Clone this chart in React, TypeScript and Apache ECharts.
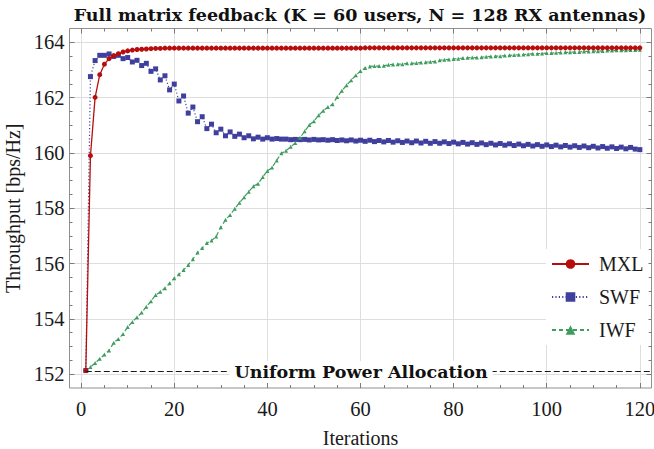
import React, { useEffect, useRef } from "react";
import * as echarts from "echarts";

const iterations = [
  1, 2, 3, 4, 5, 6, 7, 8, 9, 10, 11, 12, 13, 14, 15, 16, 17, 18, 19, 20,
  21, 22, 23, 24, 25, 26, 27, 28, 29, 30, 31, 32, 33, 34, 35, 36, 37, 38, 39, 40,
  41, 42, 43, 44, 45, 46, 47, 48, 49, 50, 51, 52, 53, 54, 55, 56, 57, 58, 59, 60,
  61, 62, 63, 64, 65, 66, 67, 68, 69, 70, 71, 72, 73, 74, 75, 76, 77, 78, 79, 80,
  81, 82, 83, 84, 85, 86, 87, 88, 89, 90, 91, 92, 93, 94, 95, 96, 97, 98, 99, 100,
  101, 102, 103, 104, 105, 106, 107, 108, 109, 110, 111, 112, 113, 114, 115, 116, 117, 118, 119, 120,
];

const mxl = [
  152.13, 159.9, 162.01, 162.83, 163.21, 163.41, 163.52, 163.59, 163.65, 163.69,
  163.72, 163.74, 163.75, 163.76, 163.77, 163.78, 163.78, 163.79, 163.79, 163.79,
  163.79, 163.79, 163.79, 163.79, 163.79, 163.79, 163.79, 163.79, 163.79, 163.79,
  163.79, 163.79, 163.79, 163.79, 163.79, 163.79, 163.79, 163.79, 163.79, 163.79,
  163.79, 163.79, 163.79, 163.79, 163.79, 163.79, 163.79, 163.79, 163.79, 163.79,
  163.79, 163.79, 163.79, 163.79, 163.79, 163.79, 163.79, 163.79, 163.79, 163.79,
  163.8, 163.8, 163.8, 163.8, 163.8, 163.8, 163.8, 163.8, 163.8, 163.8,
  163.8, 163.8, 163.8, 163.8, 163.8, 163.8, 163.8, 163.8, 163.8, 163.8,
  163.8, 163.8, 163.8, 163.8, 163.8, 163.8, 163.8, 163.8, 163.8, 163.8,
  163.8, 163.8, 163.8, 163.8, 163.8, 163.8, 163.8, 163.8, 163.8, 163.8,
  163.8, 163.8, 163.8, 163.8, 163.8, 163.8, 163.8, 163.8, 163.8, 163.8,
  163.8, 163.8, 163.8, 163.8, 163.8, 163.8, 163.8, 163.8, 163.8, 163.8,
];

const swf = [
  152.13, 162.76, 163.34, 163.53, 163.53, 163.58, 163.49, 163.53, 163.41, 163.45,
  163.29, 163.35, 163.16, 163.24, 162.95, 163.04, 162.64, 162.79, 162.28, 162.49,
  161.88, 162.06, 161.44, 161.66, 161.13, 161.31, 160.88, 161.04, 160.73, 160.86,
  160.62, 160.76, 160.6, 160.68, 160.55, 160.62, 160.51, 160.57, 160.5, 160.55,
  160.5, 160.52, 160.5, 160.5, 160.48, 160.49, 160.48, 160.49, 160.47, 160.49,
  160.47, 160.48, 160.46, 160.48, 160.45, 160.47, 160.44, 160.47, 160.43, 160.46,
  160.42, 160.46, 160.41, 160.45, 160.4, 160.45, 160.39, 160.44, 160.38, 160.43,
  160.37, 160.43, 160.36, 160.42, 160.35, 160.41, 160.35, 160.4, 160.34, 160.39,
  160.33, 160.38, 160.32, 160.37, 160.31, 160.36, 160.3, 160.35, 160.29, 160.34,
  160.28, 160.33, 160.27, 160.32, 160.26, 160.31, 160.25, 160.3, 160.24, 160.29,
  160.23, 160.28, 160.22, 160.27, 160.21, 160.26, 160.2, 160.25, 160.19, 160.24,
  160.18, 160.23, 160.17, 160.22, 160.16, 160.21, 160.15, 160.2, 160.14, 160.12,
];

const iwf = [
  152.13, 152.26, 152.4, 152.56, 152.71, 152.86, 153.14, 153.27, 153.45, 153.71,
  153.89, 154.06, 154.23, 154.44, 154.64, 154.86, 154.98, 155.11, 155.29, 155.47,
  155.61, 155.77, 155.95, 156.16, 156.4, 156.56, 156.74, 156.83, 156.98, 157.31,
  157.58, 157.76, 157.98, 158.2, 158.4, 158.6, 158.8, 158.89, 159.13, 159.35,
  159.47, 159.73, 159.99, 160.08, 160.22, 160.36, 160.55, 160.78, 161.01, 161.15,
  161.36, 161.53, 161.66, 161.76, 162.02, 162.25, 162.45, 162.63, 162.81, 162.96,
  163.07, 163.13, 163.14, 163.14, 163.15, 163.19, 163.2, 163.21, 163.21, 163.24,
  163.24, 163.25, 163.27, 163.28, 163.3, 163.31, 163.35, 163.37, 163.38, 163.4,
  163.41, 163.43, 163.44, 163.45, 163.45, 163.46, 163.48, 163.49, 163.5, 163.5,
  163.52, 163.53, 163.54, 163.55, 163.56, 163.57, 163.59, 163.59, 163.6, 163.61,
  163.61, 163.62, 163.63, 163.64, 163.64, 163.65, 163.65, 163.67, 163.67, 163.68,
  163.68, 163.69, 163.7, 163.7, 163.71, 163.71, 163.71, 163.72, 163.72, 163.73,
];

const uniformLevel = 152.12;
const uniformStart = 1;
const uniformEnd = 122.4;
const uniformLabel = "Uniform Power Allocation";

const xMajorTicks = [0, 20, 40, 60, 80, 100, 120];
const xMinorTicks = [
  0, 5, 10, 15, 20, 25, 30, 35, 40, 45, 50, 55, 60, 65, 70, 75, 80, 85, 90, 95, 100, 105, 110, 115, 120,
];
const yMajorTicks = [152, 154, 156, 158, 160, 162, 164];
const yMinorTicks = [
  152, 152.5, 153, 153.5, 154, 154.5, 155, 155.5, 156, 156.5, 157, 157.5, 158, 158.5,
  159, 159.5, 160, 160.5, 161, 161.5, 162, 162.5, 163, 163.5, 164,
];

const X_MIN = -2.5;
const X_MAX = 122.5;
const Y_MIN = 151.5;
const Y_MAX = 164.5;

const titleText = "Full matrix feedback (K = 60 users, N = 128 RX antennas)";
const serif = "Liberation Serif";
const boldSerif = "DejaVu Serif";
const tickColor = "#7a7a7a";
const gridColor = "#dedede";
const textColor = "#1a1a1a";

function pairs(vals: number[]) {
  return iterations.map((it, i) => [it, vals[i]]);
}

function xAxisDef(position: "top" | "bottom", ticks: number[], len: number, main: boolean) {
  return {
    type: "value",
    position,
    min: X_MIN,
    max: X_MAX,
    axisLine: { show: false, onZero: false },
    axisTick: { show: true, inside: true, length: len, customValues: ticks, lineStyle: { color: tickColor, width: 1 } },
    axisLabel: main
      ? { show: true, customValues: ticks, margin: 10, fontFamily: serif, fontSize: 20.5, color: textColor }
      : { show: false },
    splitLine: main && position === "bottom" ? { show: true, lineStyle: { color: gridColor, width: 1 } } : { show: false },
    ...(main && position === "bottom"
      ? {
          name: "Iterations",
          nameLocation: "middle",
          nameGap: 40,
          nameTextStyle: { fontFamily: serif, fontSize: 20, color: textColor },
        }
      : {}),
  };
}

function yAxisDef(position: "left" | "right", ticks: number[], len: number, main: boolean) {
  return {
    type: "value",
    position,
    min: Y_MIN,
    max: Y_MAX,
    axisLine: { show: false, onZero: false },
    axisTick: { show: true, inside: true, length: len, customValues: ticks, lineStyle: { color: tickColor, width: 1 } },
    axisLabel: main && position === "left"
      ? { show: true, customValues: ticks, margin: 5, fontFamily: serif, fontSize: 20.5, color: textColor }
      : { show: false },
    splitLine: main && position === "left" ? { show: true, lineStyle: { color: gridColor, width: 1 } } : { show: false },
    ...(main && position === "left"
      ? {
          name: "Throughput [bps/Hz]",
          nameLocation: "middle",
          nameGap: 41,
          nameTextStyle: { fontFamily: serif, fontSize: 20, color: textColor },
        }
      : {}),
  };
}

export default function App() {
  const ref = useRef<HTMLDivElement>(null);
  useEffect(() => {
    if (!ref.current) return;
    const chart = echarts.init(ref.current, undefined, { renderer: "svg" });
    const option: any = {
      animation: false,
      backgroundColor: "#ffffff",
      grid: {
        left: 69.5,
        right: 2.5,
        top: 28.5,
        bottom: 61,
        show: true,
        borderColor: "#8f8f8f",
        borderWidth: 1,
        backgroundColor: "transparent",
        containLabel: false,
        outerBoundsMode: "none",
      },
      graphic: [
        {
          type: "text",
          x: 360,
          y: 15,
          z: 100,
          style: {
            text: titleText,
            fontFamily: boldSerif,
            fontWeight: "bold",
            fontSize: 17.5,
            fill: "#111",
            textAlign: "center",
            textVerticalAlign: "middle",
          },
        },
        {
          type: "text",
          x: 361,
          y: 372,
          z: 100,
          style: {
            text: uniformLabel,
            fontFamily: boldSerif,
            fontWeight: "bold",
            fontSize: 17.5,
            fill: "#111",
            textAlign: "center",
            textVerticalAlign: "middle",
            backgroundColor: "#ffffff",
            padding: [2, 5],
          },
        },
      ],
      legend: {
        orient: "vertical",
        left: 546,
        top: 249,
        itemWidth: 37,
        itemHeight: 12,
        itemGap: 13,
        padding: 5,
        backgroundColor: "#ffffff",
        data: ["MXL", "SWF", "IWF"],
        textStyle: { fontFamily: serif, fontSize: 20, color: textColor, lineHeight: 20, padding: [0, 0, 0, 5] },
      },
      xAxis: [
        xAxisDef("bottom", xMajorTicks, 5, true),
        xAxisDef("bottom", xMinorTicks, 3, false),
        xAxisDef("top", xMajorTicks, 5, false),
        xAxisDef("top", xMinorTicks, 3, false),
      ],
      yAxis: [
        yAxisDef("left", yMajorTicks, 5, true),
        yAxisDef("left", yMinorTicks, 3, false),
        yAxisDef("right", yMajorTicks, 5, false),
        yAxisDef("right", yMinorTicks, 3, false),
      ],
      series: [
        {
          name: "MXL",
          type: "line",
          data: pairs(mxl),
          symbol: "circle",
          symbolSize: 5,
          color: "#b80d0d",
          lineStyle: { color: "#b80d0d", width: 1.3, type: "solid" },
          itemStyle: { color: "#b80d0d" },
          z: 4,
          markLine: {
            silent: true,
            symbol: ["none", "none"],
            lineStyle: { color: "#1a1a1a", width: 1, type: [6, 3] },
            label: { show: false },
            data: [[{ coord: [uniformStart, uniformLevel] }, { coord: [uniformEnd, uniformLevel] }]],
          },
        },
        {
          name: "SWF",
          type: "line",
          data: pairs(swf),
          symbol: "rect",
          symbolSize: 5,
          color: "#3f3f9e",
          lineStyle: { color: "#3f3f9e", width: 1.2, type: [1.2, 2.2] },
          itemStyle: { color: "#3f3f9e" },
          z: 3,
        },
        {
          name: "IWF",
          type: "line",
          data: pairs(iwf),
          symbol: "triangle",
          symbolSize: 4,
          color: "#3d9c5e",
          lineStyle: { color: "#3d9c5e", width: 1.2, type: [4, 3] },
          itemStyle: { color: "#3d9c5e" },
          z: 3,
        },
      ],
    };
    chart.setOption(option);
    return () => chart.dispose();
  }, []);
  return (
    <div
      ref={ref}
      style={{ position: "absolute", left: 0, top: 0, width: 654, height: 449, background: "#fff" }}
    />
  );
}
